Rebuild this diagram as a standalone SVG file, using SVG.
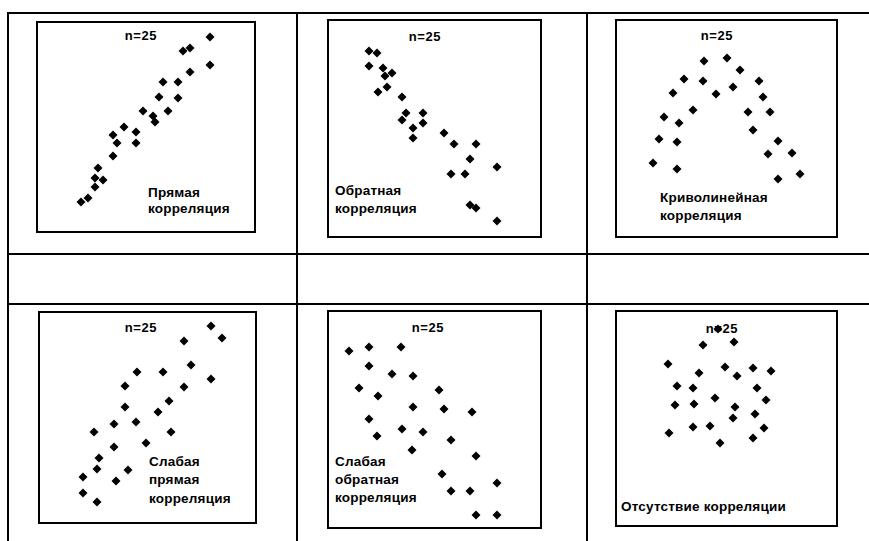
<svg xmlns="http://www.w3.org/2000/svg" width="869" height="541" viewBox="0 0 869 541">
<defs>
<path id="d" d="M0,-4.5 L4.5,0 L0,4.5 L-4.5,0 Z" fill="#000"/>
</defs>
<style>
.grid{stroke:#000;stroke-width:2;fill:none}
.box{stroke:#000;stroke-width:2;fill:#fff}
.t{font-family:"Liberation Sans",Arial,sans-serif;font-weight:bold;font-size:13.5px;fill:#000}
.n{font-size:13px;letter-spacing:0.6px}
.lbl{letter-spacing:0.2px}
</style>
<rect width="869" height="541" fill="#fff"/>
<g id="table">
<line class="grid" x1="8" y1="13" x2="869" y2="13"/>
<line class="grid" x1="8" y1="12" x2="8" y2="541"/>
<line class="grid" x1="297" y1="13" x2="297" y2="541"/>
<line class="grid" x1="587" y1="13" x2="587" y2="541"/>
<line class="grid" x1="8" y1="254" x2="869" y2="254"/>
<line class="grid" x1="8" y1="304" x2="869" y2="304"/>
</g>

<g id="panel1">
<rect class="box" x="37" y="22" width="218" height="210"/>
<text class="t n" x="141" y="40" text-anchor="middle">n=25</text>
<g>
<use href="#d" x="210" y="37"/><use href="#d" x="190" y="48"/><use href="#d" x="183" y="51"/><use href="#d" x="210" y="65"/><use href="#d" x="190" y="72"/>
<use href="#d" x="163" y="82"/><use href="#d" x="178" y="82"/><use href="#d" x="159" y="97"/><use href="#d" x="178" y="98"/><use href="#d" x="143" y="111"/>
<use href="#d" x="168" y="111"/><use href="#d" x="153" y="116"/><use href="#d" x="155" y="122"/><use href="#d" x="124" y="127"/><use href="#d" x="113" y="135"/>
<use href="#d" x="136" y="132"/><use href="#d" x="117" y="143"/><use href="#d" x="136" y="143"/><use href="#d" x="113" y="156"/><use href="#d" x="98" y="168"/>
<use href="#d" x="95" y="178"/><use href="#d" x="103" y="180"/><use href="#d" x="95" y="187"/><use href="#d" x="88" y="198"/><use href="#d" x="81" y="202"/>
</g>
<text class="t lbl" x="148" y="197">Прямая</text>
<text class="t lbl" x="148" y="213">корреляция</text>
</g>

<g id="panel2">
<rect class="box" x="328" y="20" width="213" height="217"/>
<text class="t n" x="425" y="41" text-anchor="middle">n=25</text>
<g>
<use href="#d" x="369" y="51"/><use href="#d" x="377" y="53"/><use href="#d" x="369" y="66"/><use href="#d" x="383" y="68"/><use href="#d" x="385" y="76"/>
<use href="#d" x="392" y="73"/><use href="#d" x="387" y="87"/><use href="#d" x="378" y="92"/><use href="#d" x="402" y="97"/><use href="#d" x="406" y="113"/>
<use href="#d" x="423" y="113"/><use href="#d" x="402" y="120"/><use href="#d" x="423" y="123"/><use href="#d" x="413" y="128"/><use href="#d" x="413" y="138"/>
<use href="#d" x="444" y="133"/><use href="#d" x="454" y="144"/><use href="#d" x="476" y="144"/><use href="#d" x="470" y="159"/><use href="#d" x="497" y="167"/>
<use href="#d" x="451" y="174"/><use href="#d" x="465" y="174"/><use href="#d" x="470" y="205"/><use href="#d" x="476" y="208"/><use href="#d" x="497" y="221"/>
</g>
<text class="t lbl" x="335" y="195">Обратная</text>
<text class="t lbl" x="335" y="213">корреляция</text>
</g>

<g id="panel3">
<rect class="box" x="616" y="20" width="221" height="217"/>
<text class="t n" x="717" y="40" text-anchor="middle">n=25</text>
<g>
<use href="#d" x="704" y="61"/><use href="#d" x="727" y="58"/><use href="#d" x="740" y="70"/><use href="#d" x="684" y="79"/><use href="#d" x="703" y="81"/>
<use href="#d" x="759" y="81"/><use href="#d" x="733" y="87"/><use href="#d" x="673" y="93"/><use href="#d" x="716" y="94"/><use href="#d" x="763" y="97"/>
<use href="#d" x="693" y="110"/><use href="#d" x="748" y="112"/><use href="#d" x="770" y="112"/><use href="#d" x="664" y="117"/><use href="#d" x="679" y="123"/>
<use href="#d" x="753" y="130"/><use href="#d" x="659" y="139"/><use href="#d" x="677" y="142"/><use href="#d" x="778" y="141"/><use href="#d" x="768" y="154"/>
<use href="#d" x="792" y="153"/><use href="#d" x="653" y="163"/><use href="#d" x="677" y="169"/><use href="#d" x="778" y="179"/><use href="#d" x="800" y="174"/>
</g>
<text class="t lbl" x="660" y="202">Криволинейная</text>
<text class="t lbl" x="660" y="220">корреляция</text>
</g>

<g id="panel4">
<rect class="box" x="39" y="312" width="217" height="211"/>
<text class="t n" x="141" y="332" text-anchor="middle">n=25</text>
<g>
<use href="#d" x="211" y="326"/><use href="#d" x="222" y="338"/><use href="#d" x="184" y="341"/><use href="#d" x="191" y="365"/><use href="#d" x="137" y="372"/>
<use href="#d" x="163" y="372"/><use href="#d" x="211" y="379"/><use href="#d" x="125" y="386"/><use href="#d" x="184" y="387"/><use href="#d" x="169" y="401"/>
<use href="#d" x="125" y="407"/><use href="#d" x="158" y="412"/><use href="#d" x="114" y="424"/><use href="#d" x="136" y="422"/><use href="#d" x="94" y="432"/>
<use href="#d" x="171" y="432"/><use href="#d" x="146" y="443"/><use href="#d" x="114" y="447"/><use href="#d" x="99" y="458"/><use href="#d" x="97" y="469"/>
<use href="#d" x="128" y="470"/><use href="#d" x="83" y="477"/><use href="#d" x="116" y="481"/><use href="#d" x="83" y="493"/><use href="#d" x="97" y="502"/>
</g>
<text class="t lbl" x="149" y="466">Слабая</text>
<text class="t lbl" x="149" y="484">прямая</text>
<text class="t lbl" x="149" y="503">корреляция</text>
</g>

<g id="panel5">
<rect class="box" x="328" y="311" width="213" height="217"/>
<text class="t n" x="428" y="332" text-anchor="middle">n=25</text>
<g>
<use href="#d" x="349" y="351"/><use href="#d" x="369" y="347"/><use href="#d" x="401" y="347"/><use href="#d" x="369" y="366"/><use href="#d" x="392" y="374"/>
<use href="#d" x="413" y="376"/><use href="#d" x="359" y="388"/><use href="#d" x="378" y="396"/><use href="#d" x="439" y="390"/><use href="#d" x="413" y="407"/>
<use href="#d" x="444" y="409"/><use href="#d" x="472" y="412"/><use href="#d" x="369" y="419"/><use href="#d" x="377" y="436"/><use href="#d" x="402" y="429"/>
<use href="#d" x="423" y="432"/><use href="#d" x="451" y="440"/><use href="#d" x="412" y="450"/><use href="#d" x="476" y="456"/><use href="#d" x="442" y="474"/>
<use href="#d" x="497" y="483"/><use href="#d" x="451" y="491"/><use href="#d" x="470" y="491"/><use href="#d" x="476" y="515"/><use href="#d" x="497" y="515"/>
</g>
<text class="t lbl" x="335" y="466">Слабая</text>
<text class="t lbl" x="335" y="484">обратная</text>
<text class="t lbl" x="335" y="502">корреляция</text>
</g>

<g id="panel6">
<rect class="box" x="616" y="311" width="221" height="215"/>
<text class="t n" x="722" y="333" text-anchor="middle">n=25</text>
<g>
<use href="#d" x="718" y="329"/><use href="#d" x="703" y="345"/><use href="#d" x="734" y="342"/><use href="#d" x="668" y="364"/><use href="#d" x="699" y="373"/>
<use href="#d" x="725" y="367"/><use href="#d" x="737" y="376"/><use href="#d" x="753" y="368"/><use href="#d" x="771" y="371"/><use href="#d" x="677" y="386"/>
<use href="#d" x="693" y="388"/><use href="#d" x="757" y="388"/><use href="#d" x="715" y="398"/><use href="#d" x="766" y="400"/><use href="#d" x="675" y="405"/>
<use href="#d" x="694" y="404"/><use href="#d" x="735" y="407"/><use href="#d" x="755" y="414"/><use href="#d" x="733" y="418"/><use href="#d" x="693" y="427"/>
<use href="#d" x="710" y="426"/><use href="#d" x="764" y="428"/><use href="#d" x="669" y="433"/><use href="#d" x="753" y="438"/><use href="#d" x="720" y="443"/>
</g>
<text class="t lbl" x="621" y="511">Отсутствие корреляции</text>
</g>
</svg>
